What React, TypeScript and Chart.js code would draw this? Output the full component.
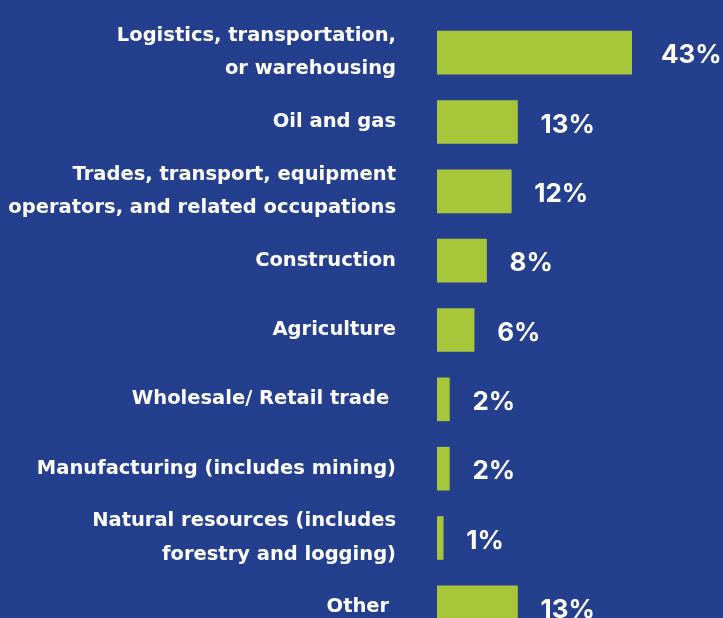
import React, { useEffect, useRef } from "react";
import { Chart, registerables } from "chart.js";

Chart.register(...registerables);

const categories: (string | string[])[] = [
  ["Logistics, transportation,", "or warehousing"],
  "Oil and gas",
  ["Trades, transport, equipment", "operators, and related occupations"],
  "Construction",
  "Agriculture",
  "Wholesale/ Retail trade ",
  "Manufacturing (includes mining)",
  ["Natural resources (includes", "forestry and logging)"],
  "Other ",
];
const shareValues = [43, 13, 12, 8, 6, 2, 2, 1, 13];
const valueLabels = ["43%", "13%", "12%", "8%", "6%", "2%", "2%", "1%", "13%"];

const BG = "#243F8D";
const BAR = "#A8C639";
const LABEL_FONT = "'DejaVu Sans', sans-serif";
const VALUE_FONT = "Inter, 'DejaVu Sans', sans-serif";

export default function App() {
  const ref = useRef<HTMLCanvasElement | null>(null);
  useEffect(() => {
    if (!ref.current) return;
    const valuePlugin = {
      id: "valueLabels",
      afterDatasetsDraw(chart: any) {
        const ctx = chart.ctx;
        const meta = chart.getDatasetMeta(0);
        ctx.save();
        ctx.fillStyle = "#ffffff";
        ctx.font = `bold 26px ${VALUE_FONT}`;
        ctx.textAlign = "left";
        ctx.textBaseline = "middle";
        meta.data.forEach((bar: any, i: number) => {
          const clipped = bar.x > chart.chartArea.right;
          const end = Math.min(bar.x, chart.chartArea.right);
          ctx.fillText(valueLabels[i], end + (clipped ? 29 : 23), bar.y + 3);
        });
        ctx.restore();
      },
    };
    const chart = new Chart(ref.current, {
      type: "bar",
      data: {
        labels: categories,
        datasets: [
          {
            data: shareValues,
            backgroundColor: BAR,
            borderWidth: 0,
            barThickness: 43,
            clip: 0,
          } as any,
        ],
      },
      options: {
        indexAxis: "y",
        responsive: false,
        animation: false,
        maintainAspectRatio: false,
        layout: { padding: { left: 0, right: 91, top: 18, bottom: 0 } },
        plugins: { legend: { display: false }, tooltip: { enabled: false } },
        scales: {
          x: {
            display: false,
            min: 0,
            max: 31.5,
            grid: { display: false },
          },
          y: {
            grid: { display: false, drawTicks: true, tickLength: 41 },
            border: { display: false },
            afterFit: (scale: any) => {
              scale.width = 437;
              scale.paddingTop = 0;
              scale.paddingBottom = 0;
            },
            ticks: {
              color: "#ffffff",
              padding: 0,
              autoSkip: false,
              font: { family: LABEL_FONT, size: 19.5, weight: "bold", lineHeight: 1.7 },
            },
          },
        },
      },
      plugins: [valuePlugin],
    });
    return () => chart.destroy();
  }, []);
  return (
    <div
      style={{
        position: "fixed",
        left: 0,
        top: 0,
        width: 723,
        height: 618,
        overflow: "hidden",
        background: BG,
      }}
    >
      <canvas ref={ref} width={723} height={642} style={{ display: "block" }} />
    </div>
  );
}
